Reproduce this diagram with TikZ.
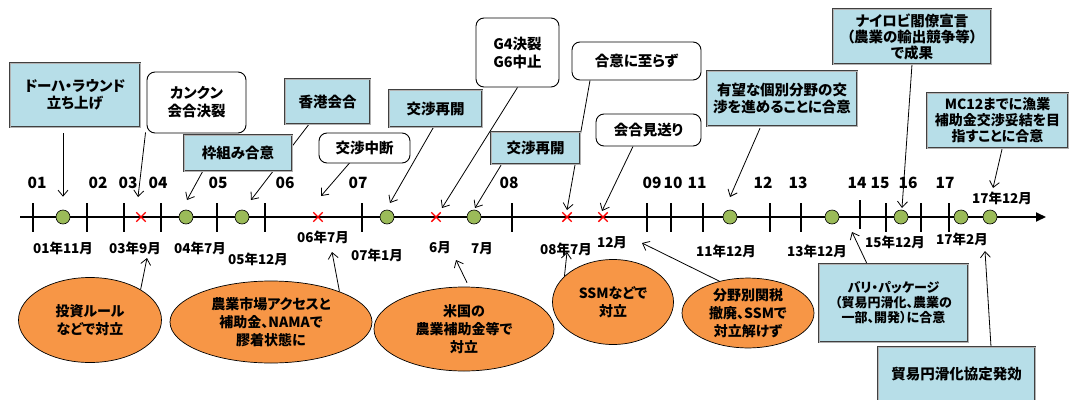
\documentclass[tikz,border=0pt]{standalone}
\usepackage{fontspec}
\setmainfont{Noto Sans CJK JP}[RawFeature={+palt}]
\usetikzlibrary{arrows.meta,shapes.geometric,shapes.misc,calc}
\definecolor{boxblue}{HTML}{B7DEE8}
\definecolor{ovalorange}{HTML}{F79646}
\definecolor{dotgreen}{HTML}{9BBB59}
\pgfdeclarelayer{bg}
\pgfsetlayers{bg,main}
\tikzset{
  bluebox/.style={draw=black!75, double=black!30, double distance=0.7pt, line width=0.5pt,
    fill=boxblue, align=center, inner sep=0pt, font=\fontsize{14.5}{17}\selectfont\bfseries},
  rbox/.style={draw=black, line width=0.9pt, rounded corners=8pt, fill=white, align=center,
    inner sep=0pt, font=\fontsize{14.5}{18}\selectfont\bfseries},
  oval/.style={ellipse, draw=black, line width=0.7pt, fill=ovalorange, align=center,
    inner sep=0pt, font=\fontsize{14}{18}\selectfont\bfseries},
  dot/.style={circle, draw=black, line width=0.6pt, fill=dotgreen, minimum size=14pt, inner sep=0pt},
  xm/.style={cross out, draw=red, line width=1.4pt, minimum size=8pt, inner sep=0pt},
  yr/.style={font=\fontsize{15.5}{15.5}\selectfont\bfseries, inner sep=0pt},
  dt/.style={font=\fontsize{13.5}{13.5}\selectfont\bfseries, inner sep=0pt},
  arr/.style={draw=black, line width=0.8pt, -{Straight Barb[length=6pt,width=10pt]}},
  tk/.style={line width=1.3pt},
}
\begin{document}
\begin{tikzpicture}[x=1pt,y=-1pt]
\clip (0,0) rectangle (1070,399);
\useasboundingbox (0,0) rectangle (1070,399);
% axis
\coordinate (axL) at (20,217);
\coordinate (axR) at (1046,217);
\draw[line width=1.8pt, -{Triangle[length=10pt,width=9pt]}] (axL) -- (axR);
\foreach \x in {33,87,124,161,217,265,362,512,647,671,703,770,801,886,921,949}
  \draw[tk] (\x,203) -- (\x,232);
\coordinate (t14) at (860,217);
\draw[tk] (860,200) -- (860,229);
% events
\node[dot] (c01) at (63,217) {};
\node[xm]  (x03) at (141,217) {};
\node[dot] (c04) at (186,217) {};
\node[dot] (c05) at (242,217) {};
\node[xm]  (x06) at (318,217) {};
\node[dot] (c07) at (387,217) {};
\node[xm]  (x6)  at (436,217) {};
\node[dot] (c7)  at (474,217) {};
\node[xm]  (x08) at (567,217) {};
\node[xm]  (x12) at (603,217) {};
\node[dot] (c11) at (730,217) {};
\node[dot] (c13) at (832,217) {};
\node[dot] (c15) at (901,217) {};
\node[dot] (c17) at (961,217) {};
\node[dot] (c17b) at (990,217) {};
% year labels
\foreach \t/\x in {01/37,02/98,03/128,04/158,05/218,06/285,07/358,08/509,09/652,10/673,11/697,12/763,13/798,14/857,15/880,16/908,17/945}
  \node[yr] (y\t) at (\x,183) {\t};
% date labels
\node[dt] (l01) at (63,248) {01年11月};
\node[dt] (l03) at (135,248) {03年9月};
\node[dt] (l04) at (200,248) {04年7月};
\node[dt] (l05) at (258,259) {05年12月};
\node[dt] (l06) at (323,237) {06年7月};
\node[dt] (l07) at (377,255) {07年1月};
\node[dt] (l6)  at (440,248) {6月};
\node[dt] (l7)  at (482,249) {7月};
\node[dt] (l08) at (566,249) {08年7月};
\node[dt] (l12) at (612,243) {12月};
\node[dt] (l11) at (726,251) {11年12月};
\node[dt] (l13) at (817,251) {13年12月};
\node[dt] (l15) at (895,242) {15年12月};
\node[dt] (l17feb) at (962,239) {17年2月};
\node[dt] (l17dec) at (1002,198) {17年12月};
% top boxes
\node[bluebox, minimum width=130pt, minimum height=64pt] (doha) at (75,95) {ドーハ・ラウンド\\立ち上げ};
\node[rbox, minimum width=99pt, minimum height=61pt] (cancun) at (196.5,102.5) {カンクン\\会合決裂};
\node[bluebox, minimum width=85pt, minimum height=45pt] (hk) at (327.5,101.5) {香港会合};
\node[bluebox, minimum width=108pt, minimum height=36pt] (waku) at (238,153) {枠組み合意};
\node[rbox, minimum width=91pt, minimum height=30pt] (chudan) at (364.5,148) {交渉中断};
\node[bluebox, minimum width=93pt, minimum height=37pt] (saikai1) at (435.5,108.5) {交渉再開};
\node[rbox, minimum width=83pt, minimum height=69pt] (g4) at (517.5,52.5) {G4決裂\\G6中止};
\node[bluebox, minimum width=89pt, minimum height=32pt] (saikai2) at (535.5,148) {交渉再開};
\node[rbox, minimum width=129pt, minimum height=38pt] (itarazu) at (636.5,61) {合意に至らず};
\node[rbox, minimum width=105pt, minimum height=32pt] (miokuri) at (648.5,130) {会合見送り};
\node[bluebox, minimum width=150pt, minimum height=55pt] (yubo) at (782,98.5) {有望な個別分野の交\\渉を進めることに合意};
\node[bluebox, minimum width=158pt, minimum height=55pt, font=\fontsize{14.5}{16}\selectfont\bfseries] (nairobi) at (912,36.5) {ナイロビ閣僚宣言\\（農業の輸出競争等）\\で成果};
\node[bluebox, minimum width=141pt, minimum height=55pt, font=\fontsize{14}{16}\selectfont\bfseries] (mc12) at (997.5,120.5) {MC12までに漁業\\補助金交渉妥結を目\\指すことに合意};
% bottom shapes
\node[oval, minimum width=143pt, minimum height=85pt] (e1) at (90,320) {投資ルール\\などで対立};
\node[oval, minimum width=202pt, minimum height=82pt] (e2) at (271,322) {農業市場アクセスと\\補助金、NAMAで\\膠着状態に};
\node[oval, minimum width=180pt, minimum height=84pt] (e3) at (464,329) {米国の\\農業補助金等で\\対立};
\node[oval, minimum width=121pt, minimum height=85pt] (e4) at (613,302) {SSMなどで\\対立};
\node[oval, minimum width=132pt, minimum height=69pt] (e5) at (748,313) {分野別関税\\撤廃、SSMで\\対立解けず};
\node[bluebox, minimum width=149pt, minimum height=78pt, font=\fontsize{13}{15}\selectfont\bfseries] (bali) at (893.5,303) {バリ・パッケージ\\（貿易円滑化、農業の\\一部、開発）に合意};
\node[bluebox, minimum width=157pt, minimum height=54pt] (tfa) at (956.5,374) {貿易円滑化協定発効};
% connectors
\begin{pgfonlayer}{bg}
\draw[arr] ($(doha.south -| c01)+(0,6)$) -- ($(c01.north)+(0,-13)$);
\draw[arr] ($(cancun.south west)+(-1,-1)$) -- ($(x03)+(-3,-20)$);
\draw[arr] ($(waku.south west)+(19,0)$) -- ($(c04)+(1,-17)$);
\draw[arr] ($(hk.south)+(-18.5,0)$) -- ($(c05)+(9,-17)$);
\draw[arr] ($(chudan.south)+(-14.5,-1)$) -- ($(x06)+(3,-21)$);
\draw[arr] ($(saikai1.south)+(-2,0)$) -- ($(c07)+(3,-14)$);
\draw[arr] (g4.south) -- ($(x6)+(6,-9)$);
\draw[arr] ($(saikai2.south)+(-34.5,1)$) -- ($(c7)+(1,-9)$);
\draw[arr] ($(itarazu.south)+(-46.5,0)$) -- ($(x08)+(0,-7)$);
\draw[arr] ($(miokuri.south)+(-15.5,0)$) -- ($(x12)+(-1,-6)$);
\draw[arr] ($(yubo.south)+(-22,2)$) -- ($(c11)+(0,-20)$);
\draw[arr] (nairobi.south) -- ($(c15)+(1,-9)$);
\draw[arr] ($(mc12.south)+(4.5,1)$) -- ($(l17dec)+(-9,-10)$);
\draw[arr] (e1.31) -- ($(l03)+(12,10)$);
\draw[arr] (e2.24) -- ($(l06)+(9,15)$);
\draw[arr] ($(e3.north)+(3,-4)$) -- ($(l6)+(16,12)$);
\draw[arr] (e4.152) -- ($(l08)+(1,3)$);
\draw[arr] (e5.132) -- ($(l12)+(30,0)$);
\draw[arr] ($(bali.north)+(-26.5,0)$) -- ($(t14)+(-8,15)$);
\draw[arr] ($(tfa.north)+(34.5,0)$) -- ($(l17feb)+(23,12)$);
\end{pgfonlayer}
\end{tikzpicture}
\end{document}
